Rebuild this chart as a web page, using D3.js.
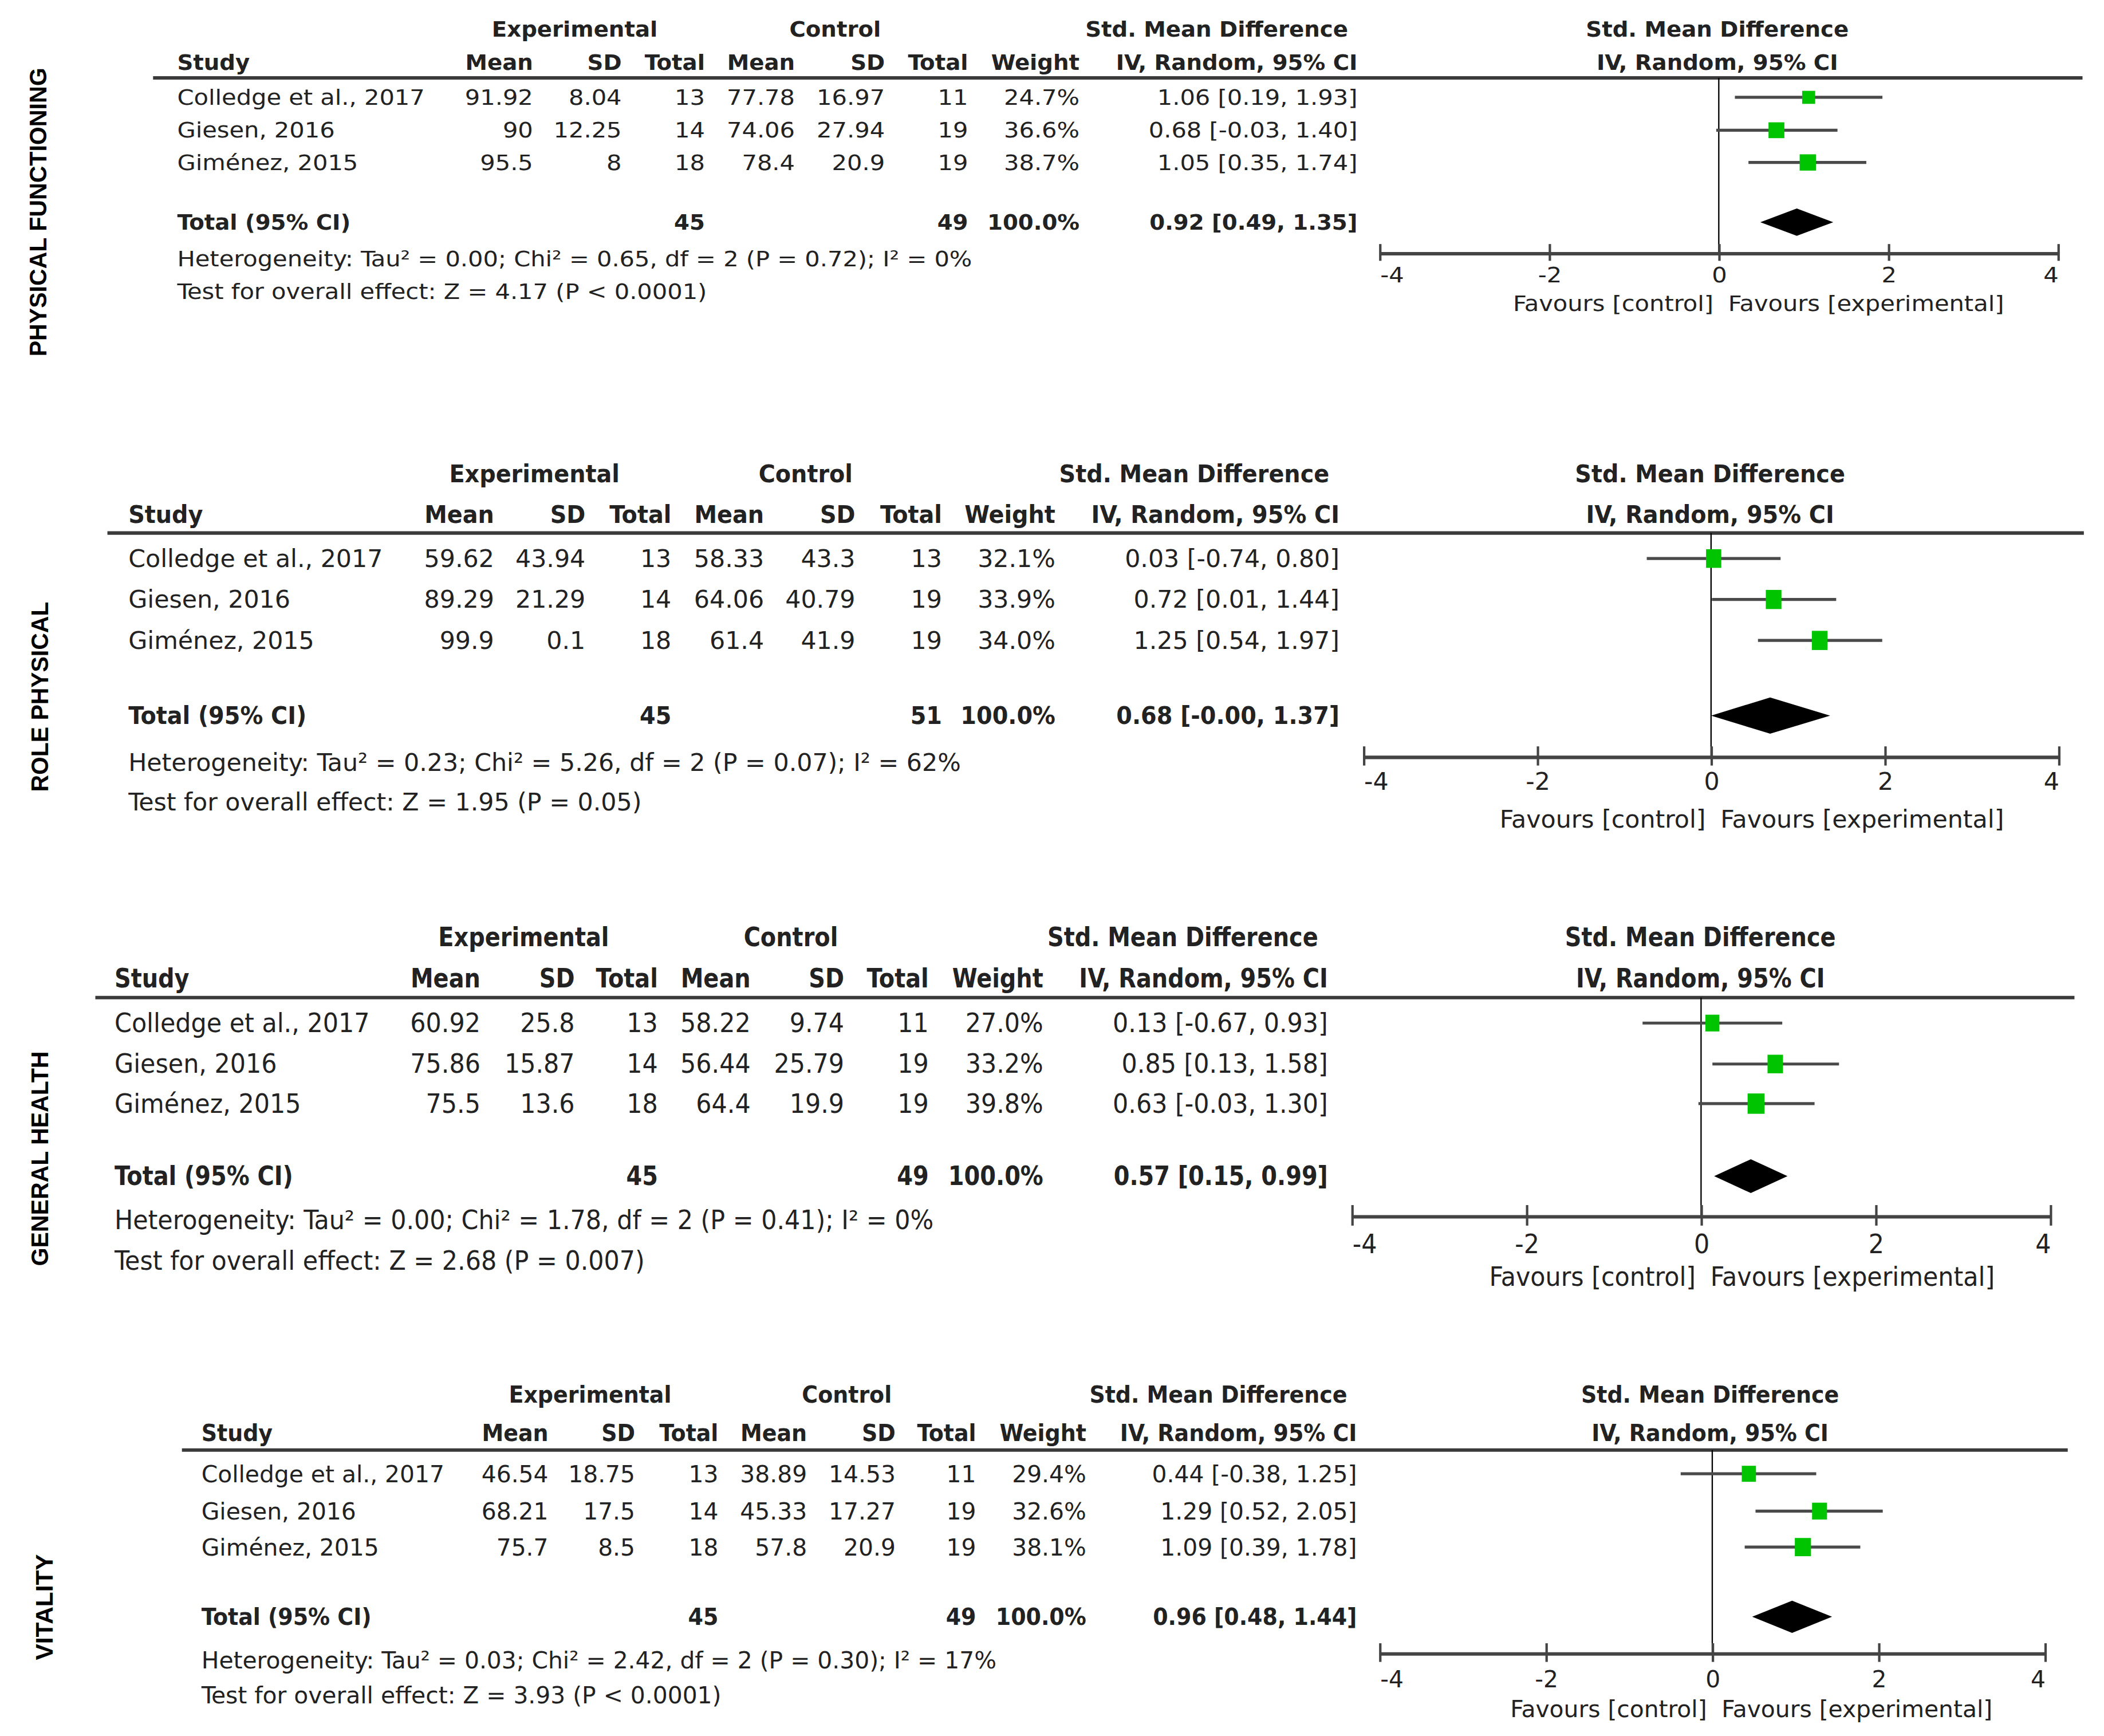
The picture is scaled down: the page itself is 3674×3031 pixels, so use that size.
<!DOCTYPE html>
<html>
<head>
<meta charset="utf-8">
<script src="https://cdn.jsdelivr.net/npm/d3@7"></script>
<style>
html,body{margin:0;padding:0;background:#fff;}
svg{display:block;}
</style>
</head>
<body>
<script>
// ---------------- DATA ----------------
const outcomes = ["PHYSICAL FUNCTIONING", "ROLE PHYSICAL", "GENERAL HEALTH", "VITALITY"];
const studies = ["Colledge et al., 2017", "Giesen, 2016", "Giménez, 2015"];
const expMean = [[91.92, 90, 95.5], [59.62, 89.29, 99.9], [60.92, 75.86, 75.5], [46.54, 68.21, 75.7]];
const expSD   = [[8.04, 12.25, 8], [43.94, 21.29, 0.1], [25.8, 15.87, 13.6], [18.75, 17.5, 8.5]];
const expN    = [[13, 14, 18], [13, 14, 18], [13, 14, 18], [13, 14, 18]];
const ctlMean = [[77.78, 74.06, 78.4], [58.33, 64.06, 61.4], [58.22, 56.44, 64.4], [38.89, 45.33, 57.8]];
const ctlSD   = [[16.97, 27.94, 20.9], [43.3, 40.79, 41.9], [9.74, 25.79, 19.9], [14.53, 17.27, 20.9]];
const ctlN    = [[11, 19, 19], [13, 19, 19], [11, 19, 19], [11, 19, 19]];
const weight  = [[24.7, 36.6, 38.7], [32.1, 33.9, 34.0], [27.0, 33.2, 39.8], [29.4, 32.6, 38.1]];
const smd     = [[1.06, 0.68, 1.05], [0.03, 0.72, 1.25], [0.13, 0.85, 0.63], [0.44, 1.29, 1.09]];
const ciLow   = [[0.19, -0.03, 0.35], [-0.74, 0.01, 0.54], [-0.67, 0.13, -0.03], [-0.38, 0.52, 0.39]];
const ciHigh  = [[1.93, 1.40, 1.74], [0.80, 1.44, 1.97], [0.93, 1.58, 1.30], [1.25, 2.05, 1.78]];
const totalExpN = [45, 45, 45, 45];
const totalCtlN = [49, 51, 49, 49];
const totalWeight = [100.0, 100.0, 100.0, 100.0];
const totalSmd  = [0.92, 0.68, 0.57, 0.96];
const totalLow  = [0.49, -0.00, 0.15, 0.48];
const totalHigh = [1.35, 1.37, 0.99, 1.44];
const tau2 = [0.00, 0.23, 0.00, 0.03];
const chi2 = [0.65, 5.26, 1.78, 2.42];
const dfHet = [2, 2, 2, 2];
const pHet = [0.72, 0.07, 0.41, 0.30];
const i2 = [0, 62, 0, 17];
const zVal = [4.17, 1.95, 2.68, 3.93];
const pZ = ["< 0.0001", "= 0.05", "= 0.007", "< 0.0001"];
const axisTicks = [-4, -2, 0, 2, 4];
const axisDomain = [-4, 4];

// ---------------- LAYOUT (viewBox units) ----------------
const layout = [
  {fs:16, hetW:592, h1:22, h2:46.5, line:58, rows:[72.5,97,121], total:165.5, het:193, test:217,
   axisY:188.5, tickLab:205, fav:226, study:132, em:397, esd:463, en:525, cm:592, csd:659, cn:721, wt:804,
   ci:1011, smdHdr:1004, expHdr:428, ctlHdr:622, rHdr:1279, lx0:114, lx1:1551, px0:1027.5, px1:1532.7,
   lblX:28.5, lblY:158, lblLen:215, kw:1.95, kh:1.95, dh:10.2},
  {fs:18.3, hetW:620, h1:353, h2:383, line:397, rows:[416,446.5,477], total:533, het:568, test:597.5,
   axisY:563.6, tickLab:582, fav:610, study:95.6, em:368, esd:436, en:500, cm:569, csd:637, cn:701.6, wt:786,
   ci:997.6, smdHdr:990, expHdr:398, ctlHdr:600, rHdr:1273.6, lx0:80, lx1:1552, px0:1015.5, px1:1533.2,
   lblX:29.5, lblY:519, lblLen:141.5, kw:2.0, kh:2.45, dh:13.5},
  {fs:19.6, hetW:610, h1:698, h2:728.7, line:743, rows:[762,792.5,822], total:876, het:908.6, test:939,
   axisY:905.8, tickLab:926.7, fav:951, study:85.3, em:357.8, esd:428, en:490, cm:559, csd:628.7, cn:691.7, wt:777,
   ci:989, smdHdr:981.7, expHdr:390, ctlHdr:589, rHdr:1266.4, lx0:71, lx1:1545, px0:1006.8, px1:1527,
   lblX:29.5, lblY:863, lblLen:160, kw:2.0, kh:2.4, dh:12.6},
  {fs:17.8, hetW:592, h1:1038.4, h2:1067, line:1080, rows:[1097.7,1125.5,1152.3], total:1204.2, het:1236.6, test:1262.5,
   axisY:1231.4, tickLab:1250.5, fav:1272.7, study:150, em:408.4, esd:473, en:535, cm:601, csd:667, cn:727, wt:809,
   ci:1010.6, smdHdr:1003.4, expHdr:439.5, ctlHdr:630.7, rHdr:1273.6, lx0:135.5, lx1:1540, px0:1027.5, px1:1523,
   lblX:33, lblY:1197, lblLen:79, kw:1.95, kh:2.2, dh:12}
];

const FONT = "'DejaVu Sans Condensed','DejaVu Sans',sans-serif";
const LABEL_FONT = "'Liberation Sans',Arial,sans-serif";
const GREEN = "#00c400";
const TEXT = "#222";
const BOLD_SQUEEZE = 0.93;

function fmt2(v) { return (v < 0 || Object.is(v, -0)) ? "-" + Math.abs(v).toFixed(2) : v.toFixed(2); }
function ciStr(m, lo, hi) { return `${fmt2(m)} [${fmt2(lo)}, ${fmt2(hi)}]`; }

const svg = d3.select("body").append("svg")
  .attr("width", 3674).attr("height", 3031)
  .attr("viewBox", "0 0 1567 1293")
  .attr("preserveAspectRatio", "none");

svg.append("rect").attr("width", 1567).attr("height", 1293).attr("fill", "#fff");

layout.forEach((L, p) => {
  const g = svg.append("g");
  const hetStr = `Heterogeneity: Tau² = ${tau2[p].toFixed(2)}; Chi² = ${chi2[p].toFixed(2)}, df = ${dfHet[p]} (P = ${pHet[p].toFixed(2)}); I² = ${i2[p]}%`;
  const testStr = `Test for overall effect: Z = ${zVal[p].toFixed(2)} (P ${pZ[p]})`;

  // measure to get horizontal squeeze
  const m = g.append("text").style("font-family", FONT).style("font-size", L.fs + "px").text(hetStr);
  const sx = L.hetW / m.node().getComputedTextLength();
  m.remove();

  function txt(x, y, s, anchor, bold) {
    const k = bold ? sx * BOLD_SQUEEZE : sx;
    return g.append("text")
      .attr("transform", `translate(${x},${y}) scale(${k},1)`)
      .attr("text-anchor", anchor || "start")
      .attr("dominant-baseline", "central")
      .style("font-family", FONT)
      .style("font-size", L.fs + "px")
      .style("font-weight", bold ? "bold" : "normal")
      .attr("fill", TEXT)
      .text(s);
  }

  // vertical outcome label
  g.append("text")
    .attr("transform", `translate(${L.lblX},${L.lblY}) rotate(-90)`)
    .attr("text-anchor", "middle")
    .attr("dominant-baseline", "central")
    .style("font-family", LABEL_FONT)
    .style("font-weight", "bold")
    .style("font-size", "18px")
    .attr("textLength", L.lblLen)
    .attr("lengthAdjust", "spacingAndGlyphs")
    .attr("fill", "#000")
    .text(outcomes[p]);

  // headers
  txt(L.expHdr, L.h1, "Experimental", "middle", true);
  txt(L.ctlHdr, L.h1, "Control", "middle", true);
  txt(L.smdHdr, L.h1, "Std. Mean Difference", "end", true);
  txt(L.rHdr, L.h1, "Std. Mean Difference", "middle", true);
  txt(L.study, L.h2, "Study", "start", true);
  txt(L.em, L.h2, "Mean", "end", true);
  txt(L.esd, L.h2, "SD", "end", true);
  txt(L.en, L.h2, "Total", "end", true);
  txt(L.cm, L.h2, "Mean", "end", true);
  txt(L.csd, L.h2, "SD", "end", true);
  txt(L.cn, L.h2, "Total", "end", true);
  txt(L.wt, L.h2, "Weight", "end", true);
  txt(L.ci, L.h2, "IV, Random, 95% CI", "end", true);
  txt(L.rHdr, L.h2, "IV, Random, 95% CI", "middle", true);

  // header rule
  g.append("line").attr("x1", L.lx0).attr("x2", L.lx1).attr("y1", L.line).attr("y2", L.line)
    .attr("stroke", "#3a3a3a").attr("stroke-width", 2.6);

  // study rows
  studies.forEach((s, i) => {
    const y = L.rows[i];
    txt(L.study, y, s, "start");
    txt(L.em, y, String(expMean[p][i]), "end");
    txt(L.esd, y, String(expSD[p][i]), "end");
    txt(L.en, y, String(expN[p][i]), "end");
    txt(L.cm, y, String(ctlMean[p][i]), "end");
    txt(L.csd, y, String(ctlSD[p][i]), "end");
    txt(L.cn, y, String(ctlN[p][i]), "end");
    txt(L.wt, y, weight[p][i].toFixed(1) + "%", "end");
    txt(L.ci, y, ciStr(smd[p][i], ciLow[p][i], ciHigh[p][i]), "end");
  });

  // total row
  txt(L.study, L.total, "Total (95% CI)", "start", true);
  txt(L.en, L.total, String(totalExpN[p]), "end", true);
  txt(L.cn, L.total, String(totalCtlN[p]), "end", true);
  txt(L.wt, L.total, totalWeight[p].toFixed(1) + "%", "end", true);
  txt(L.ci, L.total, ciStr(totalSmd[p], totalLow[p], totalHigh[p]), "end", true);
  txt(L.study, L.het, hetStr, "start");
  txt(L.study, L.test, testStr, "start");

  // forest plot
  const x = d3.scaleLinear().domain(axisDomain).range([L.px0, L.px1]);

  g.append("line").attr("x1", x(0)).attr("x2", x(0)).attr("y1", L.line).attr("y2", L.axisY)
    .attr("stroke", "#000").attr("stroke-width", 1);

  const tickUp = 0.42 * L.fs, tickDown = 0.36 * L.fs;
  const axis = d3.axisBottom(x).tickValues(axisTicks).tickSizeOuter(0).tickSizeInner(tickDown)
    .tickFormat(d => d < 0 ? "-" + Math.abs(d) : String(d));
  const ga = g.append("g").attr("transform", `translate(0,${L.axisY})`).call(axis);
  ga.attr("font-family", null).attr("font-size", null);
  ga.select(".domain").attr("stroke", "#444").attr("stroke-width", 2.6);
  ga.selectAll(".tick line").attr("y1", -tickUp).attr("y2", tickDown).attr("stroke", "#444").attr("stroke-width", 1.8);
  ga.selectAll(".tick text")
    .attr("y", null).attr("dy", null)
    .attr("transform", `translate(0,${L.tickLab - L.axisY}) scale(${sx},1)`)
    .attr("dominant-baseline", "central")
    .attr("text-anchor", (d, i, n) => i === 0 ? "start" : (i === n.length - 1 ? "end" : "middle"))
    .style("font-family", FONT).style("font-size", L.fs + "px")
    .attr("fill", TEXT);

  txt(x(0) - 4, L.fav, "Favours [control]", "end");
  txt(x(0) + 7, L.fav, "Favours [experimental]", "start");

  // CI lines and squares
  studies.forEach((s, i) => {
    const y = L.rows[i];
    g.append("line").attr("x1", x(ciLow[p][i])).attr("x2", x(ciHigh[p][i]))
      .attr("y1", y).attr("y2", y).attr("stroke", "#4a4a4a").attr("stroke-width", 2.2);
    const w = L.kw * Math.sqrt(weight[p][i]), h = L.kh * Math.sqrt(weight[p][i]);
    g.append("rect").attr("x", x(smd[p][i]) - w / 2).attr("y", y - h / 2)
      .attr("width", w).attr("height", h).attr("fill", GREEN);
  });

  // diamond
  const ty = L.total;
  const pts = [[x(totalLow[p]), ty], [x(totalSmd[p]), ty - L.dh], [x(totalHigh[p]), ty], [x(totalSmd[p]), ty + L.dh]];
  g.append("path").attr("d", d3.line()(pts) + "Z").attr("fill", "#000");
});
</script>
</body>
</html>
